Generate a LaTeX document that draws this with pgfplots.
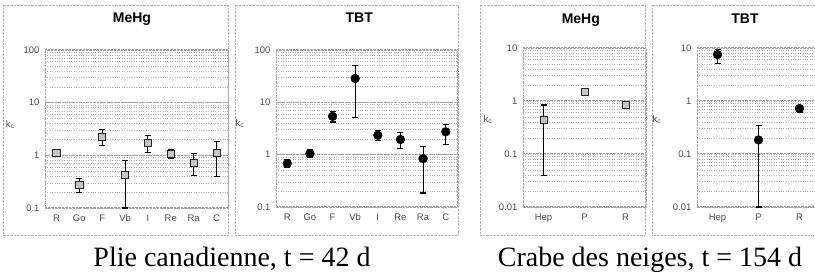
\documentclass[border=0pt]{standalone}
\usepackage{fontspec}
\setmainfont{Liberation Serif}
\setsansfont{Liberation Sans}
\usepackage{pgfplots}
\usepackage{pgfplotstable}
\pgfplotsset{compat=1.18}

\pgfplotstableread{
x y ep em
0 1.10 0.12 0.12
1 0.277 0.093 0.077
2 2.28 0.86 0.76
3 0.43 0.36 0.33
4 1.75 0.60 0.61
5 1.07 0.20 0.18
6 0.71 0.36 0.30
7 1.10 0.73 0.70
}\plieMeHg

\pgfplotstableread{
x y ep em
0 0.68 0.14 0.11
1 1.05 0.20 0.17
2 5.4 1.2 1.2
3 28.6 22.9 23.5
4 2.35 0.55 0.45
5 1.95 0.75 0.64
6 0.84 0.61 0.655
7 2.73 1.07 1.15
}\plieTBT

\pgfplotstableread{
x y ep em
0 0.44 0.40 0.40
1 1.47 0.10 0.10
2 0.84 0.06 0.06
}\crabeMeHg

\pgfplotstableread{
x y ep em
0 7.5 1.8 2.5
1 0.184 0.161 0.174
2 0.72 0.10 0.10
}\crabeTBT

\pgfplotsset{
  /pgfplots/mypanel/.style={
    /pgfplots/scale only axis,
    /pgfplots/xmin=-0.5,
    /pgfplots/axis line style={gray!70, densely dotted},
    /pgfplots/ymajorgrids, /pgfplots/yminorgrids,
    /pgfplots/major grid style={gray!75, densely dotted, line width=1pt},
    /pgfplots/minor grid style={gray!60, dotted, line width=0.6pt},
    /pgfplots/tick style={draw=none},
    /pgfplots/ticklabel style={font=\sffamily\fontsize{9.5}{11}\selectfont, text=black!70},
    /pgfplots/xticklabel style={yshift=-3pt},
    /pgfplots/yticklabel style={xshift=-2pt},
    /pgfplots/title style={font=\sffamily\bfseries\fontsize{14}{16}\selectfont, anchor=base},
    /pgfplots/ylabel={k\textsubscript{c}},
    /pgfplots/ylabel style={font=\sffamily\fontsize{9.5}{10}\selectfont, text=black!70, rotate=-90, anchor=center},
    /pgfplots/clip=false,
  },
}

\begin{document}
\begin{tikzpicture}[x=1pt,y=1pt]
\path[use as bounding box] (0,0) rectangle (815,280);
\draw[gray!60, densely dotted] (3,45) rectangle (228,275);
\draw[gray!60, densely dotted] (235,45) rectangle (458,275);
\draw[gray!60, densely dotted] (480,45) rectangle (645,275);
\draw[gray!60, densely dotted] (652,45) rectangle (820,275);

% Plie MeHg
\begin{axis}[ymode=log, mypanel, anchor=south west, at={(45pt,72pt)}, width=183pt, height=158pt,
  xmax=7.5, ymin=0.1, ymax=100,
  ytick={0.1,1,10,100}, yticklabels={0.1,1,10,100},
  xtick={0,...,7}, xticklabels={R,Go,F,Vb,I,Re,Ra,C},
  title={MeHg}, title style={at={(0.475,1)}, yshift=21pt},
  ylabel style={at={(axis description cs:-0.19,0.53)}}]
\addplot[only marks, mark=square*, mark size=3.6pt,
    mark options={fill=gray!45, draw=black!85, line width=0.7pt},
    error bars/.cd, y dir=both, y explicit,
    error bar style={black, line width=1.1pt},
    error mark options={black, line width=1.1pt, mark size=3pt, rotate=90}]
  table[x=x, y=y, y error plus=ep, y error minus=em] {\plieMeHg};
\end{axis}

% Plie TBT
\begin{axis}[ymode=log, mypanel, anchor=south west, at={(276pt,73pt)}, width=181pt, height=157pt,
  xmax=7.5, ymin=0.1, ymax=100,
  ytick={0.1,1,10,100}, yticklabels={0.1,1,10,100},
  xtick={0,...,7}, xticklabels={R,Go,F,Vb,I,Re,Ra,C},
  title={TBT}, title style={at={(0.46,1)}, yshift=21pt},
  ylabel style={at={(axis description cs:-0.2,0.53)}}]
\addplot[only marks, mark=*, mark size=4.4pt,
    mark options={fill=black, draw=black},
    error bars/.cd, y dir=both, y explicit,
    error bar style={black, line width=1.1pt},
    error mark options={black, line width=1.1pt, mark size=3pt, rotate=90}]
  table[x=x, y=y, y error plus=ep, y error minus=em] {\plieTBT};
\end{axis}

% Crabe MeHg
\begin{axis}[ymode=log, mypanel, anchor=south west, at={(523pt,73pt)}, width=123pt, height=159pt,
  xmax=2.5, ymin=0.01, ymax=10,
  ytick={0.01,0.1,1,10}, yticklabels={0.01,0.1,1,10},
  xtick={0,1,2}, xticklabels={Hep,P,R},
  title={MeHg}, title style={at={(0.47,1)}, yshift=18pt},
  ylabel style={at={(axis description cs:-0.285,0.55)}}]
\addplot[only marks, mark=square*, mark size=3.6pt,
    mark options={fill=gray!45, draw=black!85, line width=0.7pt},
    error bars/.cd, y dir=both, y explicit,
    error bar style={black, line width=1.1pt},
    error mark options={black, line width=1.1pt, mark size=3pt, rotate=90}]
  table[x=x, y=y, y error plus=ep, y error minus=em] {\crabeMeHg};
\end{axis}

% Crabe TBT
\begin{axis}[ymode=log, mypanel, anchor=south west, at={(697pt,73pt)}, width=123pt, height=159pt,
  xmax=2.5, ymin=0.01, ymax=10,
  ytick={0.01,0.1,1,10}, yticklabels={0.01,0.1,1,10},
  xtick={0,1,2}, xticklabels={Hep,P,R},
  title={TBT}, title style={at={(0.39,1)}, yshift=18pt},
  ylabel style={at={(axis description cs:-0.325,0.55)}}]
\addplot[only marks, mark=*, mark size=4.4pt,
    mark options={fill=black, draw=black},
    error bars/.cd, y dir=both, y explicit,
    error bar style={black, line width=1.1pt},
    error mark options={black, line width=1.1pt, mark size=3pt, rotate=90}]
  table[x=x, y=y, y error plus=ep, y error minus=em] {\crabeTBT};
\end{axis}

\node[font=\fontsize{28}{32}\selectfont, anchor=base] at (232,13) {Plie canadienne, t = 42 d};
\node[font=\fontsize{28}{32}\selectfont, anchor=base] at (650,13) {Crabe des neiges, t = 154 d};
\end{tikzpicture}
\end{document}
